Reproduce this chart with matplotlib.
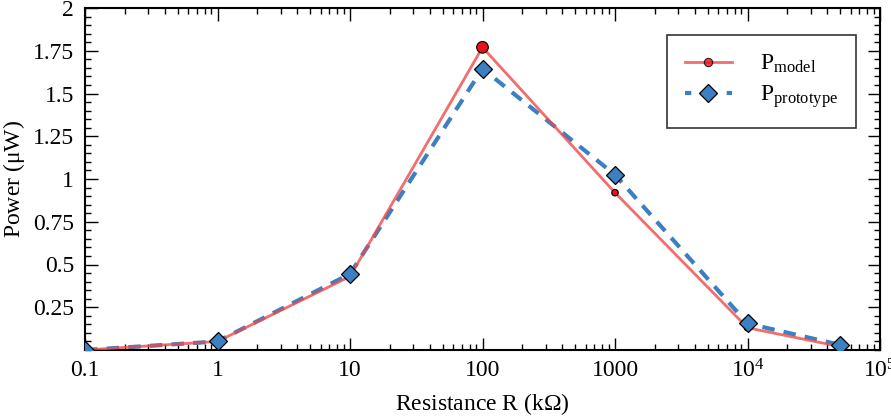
import numpy as np
import matplotlib.pyplot as plt
from matplotlib.ticker import FixedLocator, FuncFormatter, MultipleLocator, LogLocator

plt.rcParams['font.family'] = ['Liberation Serif', 'DejaVu Serif']
plt.rcParams['mathtext.fontset'] = 'custom'
plt.rcParams['mathtext.rm'] = 'Liberation Serif'
plt.rcParams['mathtext.it'] = 'Liberation Serif'

resistance = [0.1, 1, 10, 100, 1000, 1e4, 5e4]
p_model = [0.0, 0.05, 0.43, 1.77, 0.92, 0.13, 0.02]
p_proto = [0.0, 0.05, 0.445, 1.645, 1.025, 0.155, 0.03]

fig = plt.figure(figsize=(8.91, 4.17), dpi=100)
ax = fig.add_axes([85 / 891, 1 - 350 / 417, 795 / 891, 342 / 417])

red = '#f04848'
blue = '#3a80c2'

ax.plot(resistance, p_proto, '--', color=blue, lw=3, dashes=(3, 2.2), zorder=2)
ax.plot(resistance, p_model, '-', color=red, lw=2, alpha=0.8, zorder=3)
sizes = [70 if v == max(p_model) else 22 for v in p_model]
ax.scatter(resistance, p_model, s=sizes, c='#e8141c', edgecolors='black', linewidths=0.8, zorder=4)
ax.plot(resistance, p_proto, 'D', ms=9, mfc=blue, mec='black', mew=0.9, zorder=5)

ax.plot([], [], '-', color=red, lw=2, alpha=0.8, marker='o', ms=6, mfc='#e8141c', mec='black', mew=0.8,
        label=r'P$_{\mathrm{model}}$')
ax.plot([], [], '--', color=blue, lw=3, dashes=(1.5, 3.5), marker='D', ms=9, mfc=blue, mec='black',
        mew=0.9, label=r'P$_{\mathrm{prototype}}$')

ax.set_xscale('log')
ax.set_xlim(0.1, 1e5)
ax.set_ylim(0, 2)

def xfmt(v, pos):
    labels = {0.1: '0.1', 1: '1', 10: '10', 100: '100', 1000: '1000'}
    for k, s in labels.items():
        if np.isclose(v, k):
            return s
    return r'$10^{%d}$' % round(np.log10(v))

ax.xaxis.set_major_locator(FixedLocator([0.1, 1, 10, 100, 1000, 1e4, 1e5]))
ax.xaxis.set_major_formatter(FuncFormatter(xfmt))
ax.xaxis.set_minor_locator(LogLocator(base=10, subs=np.arange(2, 10), numticks=20))
ax.yaxis.set_major_locator(FixedLocator([0.25, 0.5, 0.75, 1, 1.25, 1.5, 1.75, 2]))
ax.yaxis.set_major_formatter(FuncFormatter(lambda v, p: ('%g' % v)))
ax.yaxis.set_minor_locator(MultipleLocator(0.05))

ax.tick_params(which='both', direction='in', top=True, right=True, labelsize=17, width=1.0)
ax.tick_params(which='major', length=9)
ax.tick_params(axis='x', which='major', pad=7)
ax.tick_params(axis='y', which='major', pad=8)
ax.tick_params(which='minor', length=4)
for s in ax.spines.values():
    s.set_linewidth(1.5)

ax.set_xlabel(r'Resistance R (k$\Omega$)', fontsize=17, labelpad=6)
ax.set_ylabel(r'Power ($\mu$W)', fontsize=17)

leg = ax.legend(loc='upper right', bbox_to_anchor=(0.97, 0.92), fontsize=17, frameon=True,
                fancybox=False, edgecolor='black', handlelength=2, handletextpad=1.2,
                borderpad=0.75, labelspacing=0.35, borderaxespad=0)
leg.get_frame().set_linewidth(1.2)

fig.savefig('out.png', dpi=100)
